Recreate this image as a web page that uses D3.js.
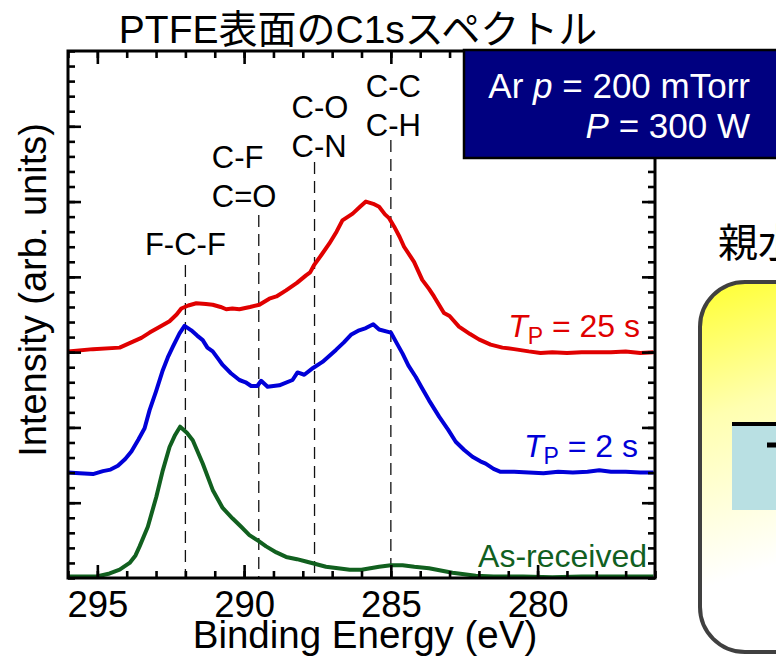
<!DOCTYPE html>
<html>
<head>
<meta charset="utf-8">
<script src="https://cdn.jsdelivr.net/npm/d3@7"></script>
<style>
  html, body { margin: 0; padding: 0; background: #fff; }
  svg { display: block; font-family: "Liberation Sans", Arial, "Noto Sans CJK JP", sans-serif; }
</style>
</head>
<body>
<script>
// Spectra: [binding energy (eV), intensity incl. offset]
var redSpectrum = [
  [296.0, 3.01], [295.15, 3.04], [294.24, 3.06], [293.9, 3.12], [293.5, 3.19], [293.22, 3.26],
  [292.9, 3.33], [292.54, 3.41], [292.3, 3.50], [292.14, 3.58], [291.9, 3.62], [291.63, 3.65],
  [291.3, 3.64], [291.07, 3.63], [290.8, 3.60], [290.61, 3.57], [290.4, 3.58], [290.16, 3.57],
  [289.8, 3.60], [289.48, 3.63], [289.14, 3.71], [288.9, 3.74], [288.57, 3.82], [288.2, 3.92],
  [287.89, 4.02], [287.75, 4.06], [287.61, 4.16], [287.35, 4.30], [287.1, 4.44], [286.85, 4.60],
  [286.65, 4.75], [286.3, 4.84], [286.05, 4.93], [285.85, 5.00], [285.6, 4.97], [285.4, 4.93],
  [285.2, 4.83], [285.06, 4.78], [284.89, 4.67], [284.7, 4.53], [284.55, 4.40], [284.21, 4.20],
  [283.93, 3.96], [283.7, 3.84], [283.53, 3.74], [283.19, 3.52], [283.0, 3.48], [282.68, 3.34],
  [282.3, 3.24], [282.0, 3.17], [281.6, 3.10], [281.2, 3.06], [280.8, 3.04], [280.3, 3.01],
  [279.9, 2.99], [279.5, 3.00], [279.0, 2.99], [278.5, 3.00], [278.0, 3.00], [277.5, 3.00],
  [277.0, 3.01], [276.5, 2.99], [276.05, 3.00]
];
var blueSpectrum = [
  [296.0, 1.40], [295.6, 1.39], [295.15, 1.38], [294.81, 1.42], [294.55, 1.44], [294.3, 1.49],
  [294.05, 1.58], [293.84, 1.68], [293.6, 1.84], [293.39, 1.99], [293.22, 2.23], [293.0, 2.48],
  [292.77, 2.76], [292.6, 2.93], [292.43, 3.07], [292.2, 3.25], [292.03, 3.35], [291.8, 3.29],
  [291.6, 3.22], [291.41, 3.16], [291.25, 3.06], [291.07, 3.01], [290.9, 2.92], [290.73, 2.83],
  [290.45, 2.72], [290.16, 2.63], [289.95, 2.60], [289.76, 2.55], [289.55, 2.55], [289.42, 2.62],
  [289.2, 2.54], [288.8, 2.56], [288.35, 2.63], [288.18, 2.73], [287.95, 2.70], [287.65, 2.79],
  [287.33, 2.87], [287.1, 2.95], [286.87, 3.03], [286.6, 3.13], [286.36, 3.23], [286.08, 3.29],
  [285.85, 3.32], [285.6, 3.37], [285.4, 3.30], [285.0, 3.26], [284.8, 3.12], [284.6, 2.98],
  [284.4, 2.82], [284.15, 2.67], [283.95, 2.53], [283.7, 2.36], [283.35, 2.14], [283.05, 1.97],
  [282.79, 1.81], [282.5, 1.70], [282.22, 1.61], [281.95, 1.55], [281.77, 1.52], [281.5, 1.45],
  [281.26, 1.41], [280.8, 1.41], [280.3, 1.40], [279.8, 1.39], [279.3, 1.41], [278.8, 1.40],
  [278.3, 1.41], [277.9, 1.43], [277.5, 1.41], [277.0, 1.41], [276.5, 1.40], [276.05, 1.40]
];
var greenSpectrum = [
  [296.0, 0.02], [295.03, 0.02], [294.8, 0.04], [294.58, 0.06], [294.24, 0.11], [293.9, 0.20],
  [293.7, 0.30], [293.56, 0.42], [293.28, 0.68], [292.99, 1.08], [292.77, 1.43], [292.54, 1.74],
  [292.35, 1.90], [292.18, 2.01], [291.95, 1.93], [291.75, 1.83], [291.41, 1.52], [291.07, 1.17],
  [290.73, 0.93], [290.39, 0.79], [290.1, 0.68], [289.82, 0.57], [289.5, 0.49], [289.25, 0.42],
  [288.9, 0.34], [288.57, 0.28], [288.2, 0.25], [287.89, 0.22], [287.5, 0.18], [287.21, 0.15],
  [286.8, 0.13], [286.4, 0.11], [286.0, 0.11], [285.7, 0.13], [285.4, 0.15], [285.0, 0.17],
  [284.6, 0.17], [284.2, 0.15], [283.7, 0.13], [283.3, 0.10], [282.9, 0.07], [282.5, 0.05],
  [282.11, 0.03], [281.5, 0.02], [280.5, 0.02], [279.5, 0.01], [278.5, 0.02], [277.5, 0.02],
  [276.05, 0.02]
];

// Series labels (main text, subscript, rest)
var seriesNames = [["T", "P", " = 25 s"], ["T", "P", " = 2 s"], ["", "", "As-received"]];
var seriesColors = ["#e00000", "#0000d8", "#11601f"];

// Peak assignment lines
var peakEnergies = [292.0, 289.5, 287.6, 285.0];
var peakLabels = [["F-C-F"], ["C-F", "C=O"], ["C-O", "C-N"], ["C-C", "C-H"]];

// Axis ticks
var xMajorTicks = [295, 290, 285, 280];
var xMinorTicks = d3.range(276, 297, 1);
var yMajorTicks = [1, 2, 3, 4, 5, 6];
var yMinorTicks = d3.range(0, 7.01, 0.2);

var width = 776, height = 659;
var margin = {top: 51, right: 121, bottom: 81, left: 68};

var svg = d3.select("body").append("svg")
    .attr("width", width)
    .attr("height", height);

var x = d3.scaleLinear().domain([296, 276]).range([margin.left, width - margin.right]);
var y = d3.scaleLinear().domain([0, 7]).range([height - margin.bottom, margin.top]);

var defs = svg.append("defs");
defs.append("clipPath").attr("id", "plotclip")
  .append("rect")
    .attr("x", margin.left).attr("y", margin.top)
    .attr("width", x.range()[1] - margin.left)
    .attr("height", y.range()[0] - margin.top);

//Title
svg.append("text")
    .attr("x", 358).attr("y", 43)
    .attr("text-anchor", "middle")
    .attr("font-size", 39)
    .text("PTFE表面のC1sスペクトル");

//Dashed peak lines + labels
var labelLayout = [
  {dx: 0, anchor: "middle", base: 255, top: 265},
  {dx: -47, anchor: "start", base: 168, top: 215},
  {dx: -23, anchor: "start", base: 118, top: 162},
  {dx: -25, anchor: "start", base: 97, top: 140}
];
peakEnergies.forEach(function(e, i) {
  var L = labelLayout[i];
  svg.append("line")
      .attr("x1", x(e)).attr("x2", x(e))
      .attr("y1", L.top).attr("y2", y(0))
      .attr("stroke", "#111")
      .attr("stroke-width", 1.3)
      .attr("stroke-dasharray", "12,7");
  peakLabels[i].forEach(function(t, j) {
    svg.append("text")
        .attr("x", x(e) + L.dx)
        .attr("y", L.base + j * 39)
        .attr("text-anchor", L.anchor)
        .attr("font-size", 31)
        .text(t);
  });
});

//Spectra
var line = d3.line().x(d => x(d[0])).y(d => y(d[1]));
var plot = svg.append("g").attr("clip-path", "url(#plotclip)");
[redSpectrum, blueSpectrum, greenSpectrum].forEach(function(s, i) {
  plot.append("path")
      .datum(s)
      .attr("fill", "none")
      .attr("stroke", seriesColors[i])
      .attr("stroke-width", 4)
      .attr("stroke-linejoin", "round")
      .attr("d", line);
});

//Series labels
var seriesLabelPos = [[640, 337], [638, 457], [647, 567]];
seriesNames.forEach(function(n, i) {
  var t = svg.append("text")
      .attr("x", seriesLabelPos[i][0]).attr("y", seriesLabelPos[i][1])
      .attr("text-anchor", "end")
      .attr("font-size", 32)
      .attr("fill", seriesColors[i]);
  if (n[0]) {
    t.append("tspan").attr("font-style", "italic").text(n[0]);
    t.append("tspan").attr("font-size", 23).attr("dy", 7).text(n[1]);
    t.append("tspan").attr("dy", -7).text(n[2]);
  } else {
    t.text(n[2]);
  }
});

//Axes (ticks point inward)
function tickStyle(g) {
  g.select(".domain").remove();
  g.selectAll(".tick line").attr("stroke", "#000").attr("stroke-width", 2.6);
}
var bottom = y(0), topY = y(7), left = x(296), right = x(276);

svg.append("g").attr("transform", `translate(0,${bottom})`)
    .call(d3.axisBottom(x).tickValues(xMinorTicks).tickSize(-7).tickFormat(""))
    .call(tickStyle);
svg.append("g").attr("transform", `translate(0,${bottom})`)
    .call(d3.axisBottom(x).tickValues(xMajorTicks).tickSize(-13).tickPadding(13).tickFormat(d3.format("d")))
    .call(tickStyle)
    .call(g => g.selectAll("text").attr("font-size", 36.5).attr("fill", "#000")
        .attr("font-family", "'Liberation Sans', Arial, sans-serif"));
svg.append("g").attr("transform", `translate(0,${topY})`)
    .call(d3.axisTop(x).tickValues(xMinorTicks).tickSize(-7).tickFormat(""))
    .call(tickStyle);
svg.append("g").attr("transform", `translate(0,${topY})`)
    .call(d3.axisTop(x).tickValues(xMajorTicks).tickSize(-13).tickFormat(""))
    .call(tickStyle);
svg.append("g").attr("transform", `translate(${left},0)`)
    .call(d3.axisLeft(y).tickValues(yMinorTicks).tickSize(-7).tickFormat(""))
    .call(tickStyle);
svg.append("g").attr("transform", `translate(${left},0)`)
    .call(d3.axisLeft(y).tickValues(yMajorTicks).tickSize(-13).tickFormat(""))
    .call(tickStyle);
svg.append("g").attr("transform", `translate(${right},0)`)
    .call(d3.axisRight(y).tickValues(yMinorTicks).tickSize(-7).tickFormat(""))
    .call(tickStyle);
svg.append("g").attr("transform", `translate(${right},0)`)
    .call(d3.axisRight(y).tickValues(yMajorTicks).tickSize(-13).tickFormat(""))
    .call(tickStyle);

//Frame
svg.append("rect")
    .attr("x", left).attr("y", topY)
    .attr("width", right - left).attr("height", bottom - topY)
    .attr("fill", "none").attr("stroke", "#000").attr("stroke-width", 3);

//Axis titles
svg.append("text")
    .attr("x", 365).attr("y", 648)
    .attr("text-anchor", "middle")
    .attr("font-size", 38.5)
    .text("Binding Energy (eV)");
svg.append("text")
    .attr("transform", "translate(46,290) rotate(-90)")
    .attr("text-anchor", "middle")
    .attr("font-size", 38)
    .text("Intensity (arb. units)");

//Condition box
svg.append("rect")
    .attr("x", 464).attr("y", 50).attr("width", 340).attr("height", 108)
    .attr("fill", "#000080").attr("stroke", "#000").attr("stroke-width", 2.5);
var cond1 = svg.append("text").attr("x", 750).attr("y", 98)
    .attr("text-anchor", "end").attr("font-size", 35).attr("fill", "#fff");
cond1.append("tspan").text("Ar ");
cond1.append("tspan").attr("font-style", "italic").text("p");
cond1.append("tspan").text(" = 200 mTorr");
var cond2 = svg.append("text").attr("x", 750).attr("y", 138)
    .attr("text-anchor", "end").attr("font-size", 35).attr("fill", "#fff");
cond2.append("tspan").attr("font-style", "italic").text("P");
cond2.append("tspan").text(" = 300 W");

//Neighbouring slide content (cut off at the right edge)
svg.append("text")
    .attr("x", 718).attr("y", 257)
    .attr("font-size", 40)
    .attr("font-family", "'Noto Sans CJK JP', sans-serif")
    .text("親水性");

var grad = defs.append("linearGradient").attr("id", "yellowgrad")
    .attr("gradientUnits", "userSpaceOnUse")
    .attr("x1", 700).attr("y1", 282).attr("x2", 790).attr("y2", 560);
grad.append("stop").attr("offset", 0).attr("stop-color", "#ffff30");
grad.append("stop").attr("offset", 0.45).attr("stop-color", "#ffffb0");
grad.append("stop").attr("offset", 1).attr("stop-color", "#ffffff");

svg.append("rect")
    .attr("x", 700).attr("y", 282).attr("width", 200).attr("height", 370)
    .attr("rx", 45).attr("ry", 45)
    .attr("fill", "url(#yellowgrad)")
    .attr("stroke", "#404040").attr("stroke-width", 4);
svg.append("rect")
    .attr("x", 732).attr("y", 424).attr("width", 60).attr("height", 86)
    .attr("fill", "#b9e0e3");
svg.append("line")
    .attr("x1", 732).attr("x2", 790).attr("y1", 424).attr("y2", 424)
    .attr("stroke", "#000").attr("stroke-width", 4);
svg.append("line")
    .attr("x1", 767).attr("x2", 790).attr("y1", 445).attr("y2", 445)
    .attr("stroke", "#000").attr("stroke-width", 5);
</script>
</body>
</html>
